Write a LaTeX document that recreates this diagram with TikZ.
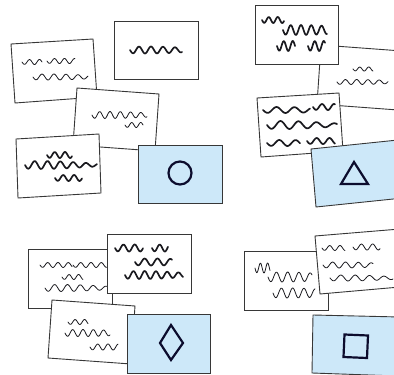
\documentclass[tikz,border=0pt]{standalone}
\definecolor{cardline}{RGB}{55,55,55}
\definecolor{bluefill}{RGB}{205,232,249}
\definecolor{ink}{RGB}{25,25,30}
\definecolor{navy}{RGB}{12,12,45}
\newcommand\scrib[6][]{\draw[scrib,#1] plot[domain=0:#4,samples=70,smooth,variable=\t] ({#2+\t},{#3+#5*sin(#6*\t)*(0.6+0.4*sin(2.3*\t+50))});}
\begin{document}
\begin{tikzpicture}[x=1pt,y=-1pt,
 card/.style={draw=cardline,fill=white,line width=0.9pt,line join=miter},
 bluecard/.style={card,fill=bluefill},
 scrib/.style={draw=ink,line width=0.8pt,line cap=round,line join=round},
 thickscrib/.style={line width=1.7pt},
 symbol/.style={draw=navy,line width=2.2pt,line join=miter}]
\useasboundingbox (0,0) rectangle (394,375);
\clip (0,0) rectangle (394,375);

% ---------- top-left group ----------
\draw[card] (11,44) -- (93,39) -- (97,97) -- (15,103) -- cycle;
\scrib{22}{62}{20}{2.5}{36}
\scrib{47}{61}{28}{2.5}{36}
\scrib{33}{77}{55}{3}{30}
\draw[card] (114,21) rectangle (198,79);
\scrib[thickscrib]{130}{50}{52}{3.5}{30}
\draw[card] (77,88) -- (159,94) -- (155,151) -- (73,145) -- cycle;
\scrib{92}{115}{55}{3.5}{35}
\scrib{125}{125}{18}{2.5}{40}
\draw[card] (16,139) -- (99,134) -- (101,193) -- (18,198) -- cycle;
\scrib[thickscrib]{47}{155}{25}{3}{35}
\scrib[thickscrib]{25}{165}{72}{4}{28}
\scrib[thickscrib]{55}{178}{27}{3}{33}
\draw[bluecard] (138,145) rectangle (222,203);
\draw[symbol] (180,173) circle (11.5);

% ---------- top-right group ----------
\draw[card] (321,45) -- (402,51) -- (398,110) -- (317,104) -- cycle;
\scrib{353}{69}{20}{2}{40}
\scrib{337}{82}{51}{2.5}{32}
\draw[card] (255,5) rectangle (338,64);
\scrib[thickscrib]{262}{20}{22}{3}{40}
\scrib[thickscrib]{283}{30}{44}{5}{35}
\scrib[thickscrib]{277}{46}{18}{5}{40}
\scrib[thickscrib]{308}{46}{17}{5}{40}
\draw[card] (257,98) -- (339,93) -- (343,151) -- (261,157) -- cycle;
\scrib[thickscrib]{263}{110}{47}{3}{20}
\scrib[thickscrib]{313}{107}{22}{3}{30}
\scrib[thickscrib]{267}{125}{70}{4}{20}
\scrib[thickscrib]{267}{143}{33}{3}{22}
\scrib[thickscrib]{307}{141}{28}{3}{28}
\draw[bluecard] (311,149) -- (398,140) -- (403,198) -- (316,207) -- cycle;
\draw[symbol] (354,162) -- (368,184) -- (341,184) -- cycle;

% ---------- bottom-left group ----------
\draw[card] (28,249) rectangle (112,308);
\scrib{40}{265}{32}{2.5}{35}
\scrib{73}{265}{34}{2.5}{35}
\scrib{62}{277}{21}{2.5}{38}
\scrib{45}{288}{62}{3.5}{28}
\draw[card] (107,234) rectangle (191,293);
\scrib[thickscrib]{115}{248}{28}{3.5}{32}
\scrib[thickscrib]{152}{248}{16}{3.5}{35}
\scrib[thickscrib]{135}{262}{37}{3.5}{28}
\scrib[thickscrib]{125}{275}{58}{4}{32}
\draw[card] (52,300) -- (135,306) -- (131,364) -- (48,358) -- cycle;
\scrib{68}{322}{20}{2.5}{38}
\scrib{65}{333}{45}{3.5}{35}
\scrib{90}{347}{28}{3}{35}
\draw[bluecard] (127,314) rectangle (210,373);
\draw[symbol] (171,325) -- (183,343) -- (171,360) -- (160,343) -- cycle;

% ---------- bottom-right group ----------
\draw[card] (244,251) rectangle (328,310);
\scrib{255}{268}{15}{5}{50}
\scrib{268}{277}{44}{5}{32}
\scrib{273}{293}{42}{5}{32}
\draw[card] (315,236) -- (400,229) -- (400,287) -- (320,294) -- cycle;
\scrib{322}{248}{23}{2.5}{35}
\scrib{353}{247}{27}{3}{32}
\scrib{323}{265}{50}{3}{28}
\scrib{330}{278}{63}{3}{25}
\draw[bluecard] (313,315) -- (400,317) -- (398,376) -- (312,373) -- cycle;
\draw[symbol] (344.5,334.5) -- (368,335.5) -- (367,358) -- (343.5,357) -- cycle;
\end{tikzpicture}
\end{document}
